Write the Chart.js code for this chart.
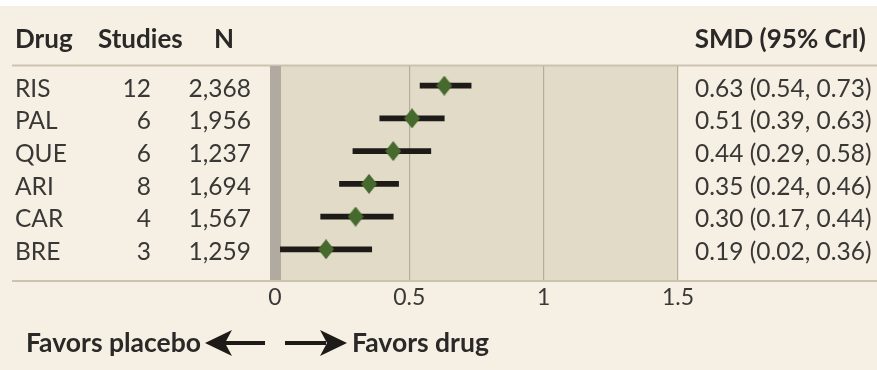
<!DOCTYPE html>
<html><head><meta charset="utf-8">
<script src="https://cdn.jsdelivr.net/npm/chart.js@4.4.0/dist/chart.umd.min.js"></script>
<style>html,body{margin:0;padding:0;background:#f6f0e4;}#wrap{width:877px;height:370px;position:relative;}</style>
</head><body><div id="wrap"><canvas id="c"></canvas></div>
<script>
const drugs = ['RIS', 'PAL', 'QUE', 'ARI', 'CAR', 'BRE'];
const studies = [12, 6, 6, 8, 4, 3];
const patients = [2368, 1956, 1237, 1694, 1567, 1259];
const smd = [0.63, 0.51, 0.44, 0.35, 0.30, 0.19];
const ciLow = [0.54, 0.39, 0.29, 0.24, 0.17, 0.02];
const ciHigh = [0.73, 0.63, 0.58, 0.46, 0.44, 0.36];
const xTicks = [0, 0.5, 1, 1.5];
const headers = ['Drug', 'Studies', 'N', 'SMD (95% CrI)'];
const favorLabels = ['Favors placebo', 'Favors drug'];

const CREAM = '#f6f0e4', PLOTBG = '#e1dbc8', RULE = '#cbc2b0', TXT = '#3a3836', HEAD = '#2b2927';
const FONT = 'Lato, "Open Sans", sans-serif';

// diamond marker
const dia = document.createElement('canvas');
dia.width = 16; dia.height = 20;
(function () {
  const g = dia.getContext('2d');
  g.fillStyle = '#46692d';
  g.beginPath();
  g.moveTo(8, 0); g.lineTo(16, 10); g.lineTo(8, 20); g.lineTo(0, 10); g.closePath();
  g.fill();
})();

const decor = {
  id: 'decor',
  beforeDraw(chart) {
    const { ctx, chartArea: a, width, height } = chart;
    ctx.save();
    ctx.fillStyle = CREAM; ctx.fillRect(0, 0, width, height);
    ctx.fillStyle = '#ffffff'; ctx.fillRect(0, 0, width, 6);
    ctx.fillStyle = PLOTBG; ctx.fillRect(a.left, a.top, a.right - a.left, a.bottom - a.top);
    ctx.strokeStyle = RULE; ctx.lineWidth = 2;
    ctx.beginPath();
    ctx.moveTo(12, a.top - 0.5); ctx.lineTo(width, a.top - 0.5);
    ctx.moveTo(12, a.bottom + 0.5); ctx.lineTo(width, a.bottom + 0.5);
    ctx.stroke();
    ctx.restore();
  },
  afterDraw(chart) {
    const { ctx, scales } = chart;
    ctx.save();
    // headers
    ctx.fillStyle = HEAD; ctx.textBaseline = 'middle';
    ctx.font = 'bold 26px ' + FONT;
    ctx.textAlign = 'left';
    ctx.fillText(headers[0], 15, 40);
    ctx.fillText(headers[1], 98, 40);
    ctx.fillText(headers[2], 214, 40);
    ctx.textAlign = 'right';
    ctx.fillText(headers[3], 866, 40);
    // rows
    ctx.font = '24.5px ' + FONT; ctx.fillStyle = TXT;
    drugs.forEach((d, i) => {
      const y = scales.y.getPixelForValue(i) + 3;
      ctx.textAlign = 'left';
      ctx.fillText(d, 15, y);
      ctx.textAlign = 'right';
      ctx.fillText(String(studies[i]), 151, y);
      ctx.fillText(patients[i].toLocaleString('en-US'), 251, y);
      ctx.textAlign = 'left';
      ctx.fillText(smd[i].toFixed(2) + ' (' + ciLow[i].toFixed(2) + ', ' + ciHigh[i].toFixed(2) + ')', 695, y);
    });
    // favors
    const fy = 343;
    ctx.font = 'bold 26.5px ' + FONT; ctx.fillStyle = HEAD;
    ctx.textAlign = 'right'; ctx.fillText(favorLabels[0], 201, fy);
    ctx.textAlign = 'left'; ctx.fillText(favorLabels[1], 352, fy);
    ctx.fillStyle = '#1e1a17';
    // left arrow
    ctx.fillRect(224, fy - 2, 41, 4);
    ctx.beginPath();
    ctx.moveTo(205, fy); ctx.lineTo(232, fy - 13); ctx.lineTo(225, fy); ctx.lineTo(232, fy + 13); ctx.closePath(); ctx.fill();
    // right arrow
    ctx.fillRect(285, fy - 2, 41, 4);
    ctx.beginPath();
    ctx.moveTo(347, fy); ctx.lineTo(320, fy - 13); ctx.lineTo(327, fy); ctx.lineTo(320, fy + 13); ctx.closePath(); ctx.fill();
    ctx.restore();
  }
};

new Chart(document.getElementById('c'), {
  type: 'bar',
  data: {
    datasets: [
      {
        type: 'bar', indexAxis: 'y', order: 2,
        data: drugs.map((d, i) => ({ x: [ciLow[i], ciHigh[i]], y: i })),
        backgroundColor: '#1e1a17', barThickness: 5
      },
      {
        type: 'scatter', order: 1,
        data: drugs.map((d, i) => ({ x: smd[i], y: i })),
        pointStyle: dia, pointRadius: 10
      }
    ]
  },
  options: {
    responsive: true, maintainAspectRatio: false, animation: false,
    layout: { padding: { left: 275, right: 199, top: 66, bottom: 56 } },
    plugins: { legend: { display: false }, tooltip: { enabled: false } },
    scales: {
      x: {
        type: 'linear', min: 0, max: 1.5, offset: false,
        afterBuildTicks: s => { s.ticks = xTicks.map(v => ({ value: v })); },
        border: { display: false },
        grid: {
          offset: false, drawTicks: false,
          color: c => c.tick && c.tick.value === 0 ? '#b1aaa1' : '#b5ad9c',
          lineWidth: c => c.tick && c.tick.value === 0 ? 11 : 1.2
        },
        ticks: { padding: 3, color: TXT, font: { family: FONT, size: 23 }, callback: v => String(v), maxRotation: 0 }
      },
      y: { type: 'linear', reverse: true, min: -0.6, max: 5.95, display: false, offset: false, grid: { offset: false } }
    }
  },
  plugins: [decor]
});
</script></body></html>
